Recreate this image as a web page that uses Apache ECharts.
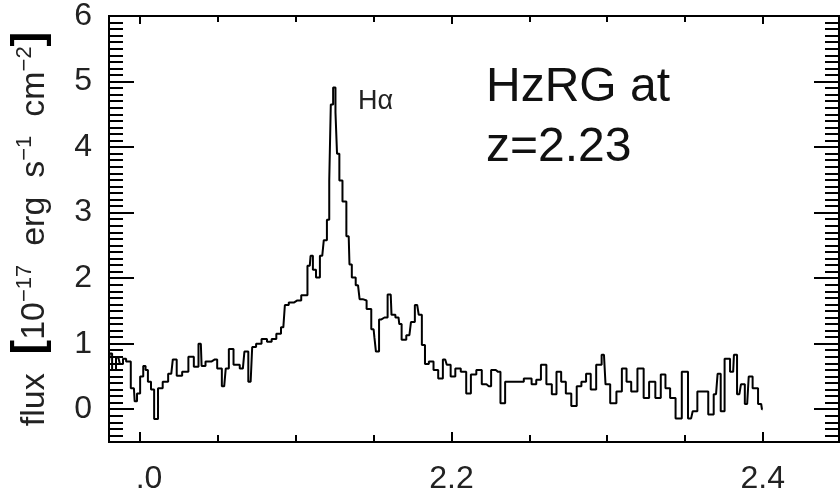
<!DOCTYPE html>
<html>
<head>
<meta charset="utf-8">
<script src="https://cdn.jsdelivr.net/npm/echarts@6/dist/echarts.min.js"></script>
<style>
  html, body { margin: 0; padding: 0; background: #fff; }
  #chart { width: 840px; height: 496px; }
</style>
</head>
<body>
<div id="chart"></div>
<script>
// wavelength (micron) and flux (1e-17 erg/s/cm2)
const wave = [
  1.980, 1.981, 1.983, 1.986, 1.988, 1.990, 1.992, 1.996, 1.997, 1.999,
  2.001, 2.003, 2.004, 2.006, 2.008, 2.010, 2.013, 2.016, 2.020, 2.022,
  2.025, 2.029, 2.033, 2.036, 2.039, 2.040, 2.044, 2.048, 2.051, 2.054,
  2.056, 2.058, 2.062, 2.066, 2.068, 2.071, 2.073, 2.076, 2.080, 2.083,
  2.086, 2.089, 2.092, 2.094, 2.097, 2.101, 2.106, 2.109, 2.110, 2.112,
  2.114, 2.117, 2.119, 2.121, 2.122, 2.123, 2.125, 2.126, 2.127, 2.129,
  2.131, 2.134, 2.135, 2.137, 2.140, 2.142, 2.144, 2.147, 2.150, 2.151,
  2.152, 2.155, 2.157, 2.161, 2.162, 2.166, 2.167, 2.169, 2.173, 2.175,
  2.178, 2.180, 2.182, 2.184, 2.187, 2.190, 2.193, 2.196, 2.198, 2.201,
  2.204, 2.208, 2.211, 2.214, 2.218, 2.221, 2.224, 2.227, 2.230, 2.233,
  2.236, 2.240, 2.243, 2.250, 2.253, 2.256, 2.259, 2.263, 2.266, 2.269,
  2.272, 2.275, 2.279, 2.282, 2.285, 2.288, 2.291, 2.295, 2.298, 2.300,
  2.304, 2.308, 2.311, 2.314, 2.317, 2.322, 2.325, 2.329, 2.333, 2.336,
  2.339, 2.342, 2.346, 2.350, 2.354, 2.356, 2.360, 2.363, 2.367, 2.370,
  2.372, 2.374, 2.377, 2.381, 2.382, 2.385, 2.387, 2.390, 2.392, 2.395,
  2.399, 2.400
];
const flux = [
  0.73, 0.85, 0.60, 0.79, 0.69, 0.77, 0.73, 0.32, 0.12, 0.24,
  0.50, 0.66, 0.60, 0.42, 0.30, -0.15, 0.32, 0.42, 0.54, 0.76,
  0.51, 0.57, 0.80, 0.65, 1.00, 0.66, 0.73, 0.76, 0.62, 0.35,
  0.62, 0.92, 0.68, 0.62, 0.88, 0.42, 0.95, 1.00, 1.07, 1.03,
  1.07, 1.15, 1.25, 1.59, 1.63, 1.66, 1.74, 2.19, 2.34, 2.13,
  2.01, 2.34, 2.58, 2.89, 3.49, 4.65, 4.91, 4.53, 3.90, 3.49,
  3.17, 2.64, 2.21, 2.01, 1.89, 1.68, 1.66, 1.53, 1.22, 1.10,
  0.88, 1.37, 1.40, 1.75, 1.44, 1.40, 1.30, 1.06, 1.13, 1.33,
  1.59, 1.44, 0.98, 0.69, 0.73, 0.60, 0.47, 0.76, 0.68, 0.50,
  0.62, 0.57, 0.24, 0.53, 0.60, 0.38, 0.35, 0.60, 0.57, 0.09,
  0.42, 0.42, 0.42, 0.47, 0.38, 0.45, 0.68, 0.38, 0.23, 0.57,
  0.42, 0.24, 0.05, 0.35, 0.42, 0.54, 0.30, 0.68, 0.83, 0.38,
  0.09, 0.27, 0.62, 0.42, 0.27, 0.62, 0.17, 0.42, 0.17, 0.53,
  0.32, 0.17, -0.14, 0.57, -0.14, -0.03, 0.27, 0.27, -0.08, 0.23,
  0.54, -0.03, 0.77, 0.57, 0.83, 0.23, 0.38, 0.08, 0.50, 0.32,
  0.08, 0.00
];

const xMin = 1.98, xMax = 2.449;
const yMin = -0.5, yMax = 6;
const xLabels = [2.0, 2.2, 2.4];
const xMinor = [2.0, 2.05, 2.1, 2.15, 2.2, 2.25, 2.3, 2.35, 2.4];
const yLabels = [0, 1, 2, 3, 4, 5, 6];
const yMinor = [];
for (let i = -5; i <= 60; i++) yMinor.push(i / 10);

const fontFam = "'Liberation Sans', Arial, sans-serif";
const black = '#000';

function xAx(pos, ticks, len, labels) {
  return {
    type: 'value', position: pos, min: xMin, max: xMax,
    axisLine: { show: true, onZero: false, lineStyle: { color: black, width: 2 } },
    axisTick: { show: true, inside: true, length: len, customValues: ticks,
      lineStyle: { color: black, width: 2 } },
    axisLabel: labels ? {
      show: true, customValues: labels, margin: 21,
      fontFamily: fontFam, fontSize: 32, color: '#222',
      formatter: v => (Math.abs(v - 2) < 1e-6 ? '{h|2}.0' : v.toFixed(1)),
      rich: { h: { color: 'rgba(0,0,0,0)', fontFamily: fontFam, fontSize: 32 } }
    } : { show: false },
    splitLine: { show: false }
  };
}

function yAx(pos, ticks, len, labels) {
  return {
    type: 'value', position: pos, min: yMin, max: yMax,
    axisLine: { show: true, onZero: false, lineStyle: { color: black, width: 2 } },
    axisTick: { show: true, inside: true, length: len, customValues: ticks,
      lineStyle: { color: black, width: 2 } },
    axisLabel: labels ? {
      show: true, customValues: labels, margin: 17,
      fontFamily: fontFam, fontSize: 32, color: '#222'
    } : { show: false },
    splitLine: { show: false }
  };
}

const yLeft = yAx('left', yLabels, 25, yLabels);
yLeft.name = '{n|flux  }{b|[}{n|10}{s|−17}{n|  erg  s}{s|−1}{n|  cm}{s|−2}{b|]}';
yLeft.nameLocation = 'middle';
yLeft.nameRotate = 90;
yLeft.nameGap = 57;
yLeft.nameTextStyle = {
  fontFamily: fontFam, fontSize: 34, color: '#222',
  rich: {
    n: { fontFamily: fontFam, fontSize: 34, color: '#222', verticalAlign: 'bottom' },
    s: { fontFamily: fontFam, fontSize: 22, color: '#222', verticalAlign: 'bottom', padding: [0, 0, 16, 0] },
    b: { fontFamily: fontFam, fontSize: 44, fontWeight: 'bold', color: '#000', verticalAlign: 'bottom' }
  }
};

const chart = echarts.init(document.getElementById('chart'), null, { renderer: 'canvas' });
chart.setOption({
  animation: false,
  backgroundColor: '#fff',
  grid: { left: 107, right: 1, top: 12, bottom: 54 },
  xAxis: [
    xAx('bottom', xLabels, 10, xLabels),
    xAx('bottom', xMinor, 7, null),
    xAx('top', xLabels, 8, null),
    xAx('top', xMinor, 6, null)
  ],
  yAxis: [
    yLeft,
    yAx('left', yMinor, 14, null),
    yAx('right', yLabels, 25, null),
    yAx('right', yMinor, 14, null)
  ],
  series: [{
    type: 'line',
    xAxisIndex: 0, yAxisIndex: 0,
    step: 'middle',
    showSymbol: false,
    data: wave.map((w, i) => [w, flux[i]]),
    lineStyle: { color: black, width: 2 },
    silent: true
  }],
  graphic: [
    {
      type: 'text', left: 358, top: 88,
      style: { text: 'Hα', fontFamily: fontFam, fontSize: 27, fill: '#222' }
    },
    {
      type: 'text', left: 486, top: 58,
      style: { text: 'HzRG at\nz=2.23', fontFamily: fontFam, fontSize: 48, lineHeight: 60, fill: '#111' }
    }
  ]
});
</script>
</body>
</html>
